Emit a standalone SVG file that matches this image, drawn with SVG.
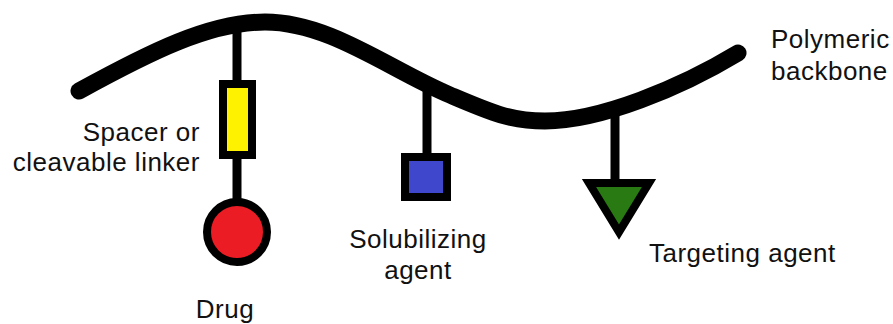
<svg xmlns="http://www.w3.org/2000/svg" width="893" height="324" viewBox="0 0 893 324">
<style>
.bb{fill:none;stroke:#000;stroke-width:17;stroke-linecap:round;stroke-linejoin:round}
.stem{fill:none;stroke:#000;stroke-width:9}
.shape{stroke:#000;stroke-width:8}
text{font-family:"Liberation Sans",Arial,sans-serif;font-size:26px;letter-spacing:0.5px;fill:#111}
</style>
<rect width="893" height="324" fill="#fff"/>
<g id="backbone">
<path class="bb" d="M79,91 C150,52 210,22 265,22 C330,22 390,70 450,95 C490,112 510,121 545,121 C600,121 680,88 738,53"/>
<text x="771" y="48">Polymeric</text>
<text x="771" y="80">backbone</text>
</g>
<g id="connectors">
<line class="stem" x1="237" y1="22" x2="237" y2="84"/>
<line class="stem" x1="237" y1="155" x2="237" y2="202"/>
<line class="stem" x1="427" y1="85" x2="427" y2="157"/>
<line class="stem" x1="615" y1="115" x2="615" y2="183"/>
</g>
<g id="linker">
<rect class="shape" x="223" y="84" width="29" height="71" fill="#fff200"/>
<text x="200" y="141" text-anchor="end">Spacer or</text>
<text x="200" y="171" text-anchor="end">cleavable linker</text>
</g>
<g id="drug">
<circle class="shape" cx="237" cy="232" r="30" fill="#ec1c24"/>
<text x="225" y="318" text-anchor="middle">Drug</text>
</g>
<g id="solubilizing">
<rect class="shape" x="405" y="157" width="42" height="40" fill="#3f48cc"/>
<text x="418" y="248" text-anchor="middle">Solubilizing</text>
<text x="418" y="279" text-anchor="middle">agent</text>
</g>
<g id="targeting">
<polygon class="shape" points="589,183 649,183 619,232" fill="#2a7a14" stroke-linejoin="miter"/>
<text x="649" y="262">Targeting agent</text>
</g>
</svg>
